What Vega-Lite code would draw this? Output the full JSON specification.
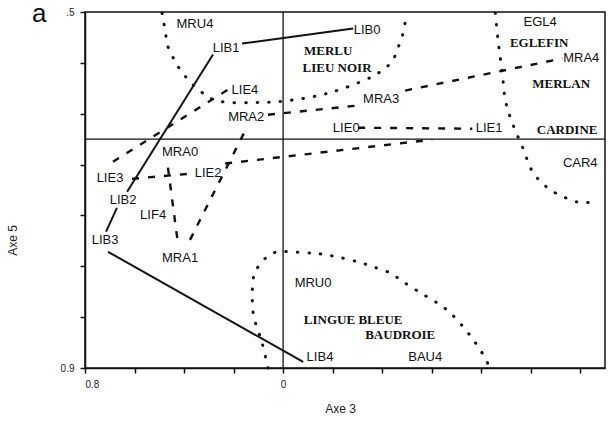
{
  "$schema": "https://vega.github.io/schema/vega-lite/v6.json",
  "autosize": {"type": "none"},
  "padding": {"left": 85, "top": 12, "right": 4, "bottom": 57},
  "width": 520,
  "height": 356,
  "background": "white",
  "config": {
    "view": {"stroke": "#111", "strokeWidth": 1.5},
    "axis": {"grid": false, "domainColor": "#111", "domainWidth": 1.5, "ticks": true, "tickColor": "#111", "tickWidth": 1.5, "tickSize": 5, "labelFont": "Liberation Sans", "labelFontSize": 10, "labelColor": "#222", "titleFont": "Liberation Sans", "titleFontSize": 12, "titleFontWeight": "normal", "titleColor": "#222"}
  },
  "datasets": {
    "solid": [
      {"s": "S1", "i": 0, "x": -0.166, "y": 0.376}, {"s": "S1", "i": 1, "x": 0.283, "y": 0.435},
      {"s": "S2", "i": 0, "x": -0.283, "y": 0.333}, {"s": "S2", "i": 1, "x": -0.630, "y": -0.207},
      {"s": "S3", "i": 0, "x": -0.671, "y": -0.270}, {"s": "S3", "i": 1, "x": -0.715, "y": -0.364},
      {"s": "S4", "i": 0, "x": -0.707, "y": -0.443}, {"s": "S4", "i": 1, "x": 0.081, "y": -0.876}
    ],
    "dashed": [
      {"s": "M01", "i": 0, "x": -0.465, "y": -0.112}, {"s": "M01", "i": 1, "x": -0.424, "y": -0.415},
      {"s": "M12", "i": 0, "x": -0.376, "y": -0.396}, {"s": "M12", "i": 1, "x": -0.145, "y": 0.049},
      {"s": "M23", "i": 0, "x": -0.061, "y": 0.096}, {"s": "M23", "i": 1, "x": 0.299, "y": 0.132},
      {"s": "M34", "i": 0, "x": 0.493, "y": 0.191}, {"s": "M34", "i": 1, "x": 1.127, "y": 0.317},
      {"s": "L01", "i": 0, "x": 0.303, "y": 0.045}, {"s": "L01", "i": 1, "x": 0.764, "y": 0.041},
      {"s": "L12", "i": 0, "x": -0.234, "y": -0.096}, {"s": "L12", "i": 1, "x": 0.602, "y": -0.002},
      {"s": "L23", "i": 0, "x": -0.610, "y": -0.156}, {"s": "L23", "i": 1, "x": -0.376, "y": -0.136},
      {"s": "L34", "i": 0, "x": -0.687, "y": -0.089}, {"s": "L34", "i": 1, "x": -0.222, "y": 0.195}
    ],
    "dotted": [
      {"s": "C1", "i": 0, "x": -0.489, "y": 0.496}, {"s": "C1", "i": 1, "x": -0.477, "y": 0.431},
      {"s": "C1", "i": 2, "x": -0.465, "y": 0.364}, {"s": "C1", "i": 3, "x": -0.440, "y": 0.313},
      {"s": "C1", "i": 4, "x": -0.416, "y": 0.274}, {"s": "C1", "i": 5, "x": -0.376, "y": 0.226},
      {"s": "C1", "i": 6, "x": -0.327, "y": 0.183}, {"s": "C1", "i": 7, "x": -0.283, "y": 0.156},
      {"s": "C1", "i": 8, "x": -0.214, "y": 0.144}, {"s": "C1", "i": 9, "x": -0.105, "y": 0.144},
      {"s": "C1", "i": 10, "x": -0.012, "y": 0.148}, {"s": "C1", "i": 11, "x": 0.121, "y": 0.167},
      {"s": "C1", "i": 12, "x": 0.230, "y": 0.195}, {"s": "C1", "i": 13, "x": 0.352, "y": 0.242},
      {"s": "C1", "i": 14, "x": 0.404, "y": 0.274}, {"s": "C1", "i": 15, "x": 0.440, "y": 0.305},
      {"s": "C1", "i": 16, "x": 0.461, "y": 0.352}, {"s": "C1", "i": 17, "x": 0.481, "y": 0.404},
      {"s": "C1", "i": 18, "x": 0.493, "y": 0.459}, {"s": "C1", "i": 19, "x": 0.501, "y": 0.496},
      {"s": "C2", "i": 0, "x": 0.857, "y": 0.496}, {"s": "C2", "i": 1, "x": 0.869, "y": 0.380},
      {"s": "C2", "i": 2, "x": 0.885, "y": 0.262}, {"s": "C2", "i": 3, "x": 0.897, "y": 0.156},
      {"s": "C2", "i": 4, "x": 0.925, "y": 0.065}, {"s": "C2", "i": 5, "x": 0.966, "y": -0.030},
      {"s": "C2", "i": 6, "x": 1.010, "y": -0.132}, {"s": "C2", "i": 7, "x": 1.079, "y": -0.199},
      {"s": "C2", "i": 8, "x": 1.160, "y": -0.238}, {"s": "C2", "i": 9, "x": 1.212, "y": -0.250},
      {"s": "C2", "i": 10, "x": 1.273, "y": -0.242},
      {"s": "C3", "i": 0, "x": -0.061, "y": -0.900}, {"s": "C3", "i": 1, "x": -0.085, "y": -0.801},
      {"s": "C3", "i": 2, "x": -0.121, "y": -0.683}, {"s": "C3", "i": 3, "x": -0.121, "y": -0.553},
      {"s": "C3", "i": 4, "x": -0.101, "y": -0.502}, {"s": "C3", "i": 5, "x": -0.065, "y": -0.463},
      {"s": "C3", "i": 6, "x": -0.024, "y": -0.443}, {"s": "C3", "i": 7, "x": 0.028, "y": -0.443},
      {"s": "C3", "i": 8, "x": 0.097, "y": -0.447}, {"s": "C3", "i": 9, "x": 0.149, "y": -0.451},
      {"s": "C3", "i": 10, "x": 0.218, "y": -0.463}, {"s": "C3", "i": 11, "x": 0.299, "y": -0.482},
      {"s": "C3", "i": 12, "x": 0.364, "y": -0.502}, {"s": "C3", "i": 13, "x": 0.432, "y": -0.526},
      {"s": "C3", "i": 14, "x": 0.485, "y": -0.561}, {"s": "C3", "i": 15, "x": 0.554, "y": -0.604},
      {"s": "C3", "i": 16, "x": 0.622, "y": -0.644}, {"s": "C3", "i": 17, "x": 0.675, "y": -0.683},
      {"s": "C3", "i": 18, "x": 0.727, "y": -0.738}, {"s": "C3", "i": 19, "x": 0.768, "y": -0.789},
      {"s": "C3", "i": 20, "x": 0.804, "y": -0.841}, {"s": "C3", "i": 21, "x": 0.836, "y": -0.900}
    ],
    "labels": [
      {"t": "MRU4", "x": -0.356, "y": 0.451}, {"t": "LIB1", "x": -0.230, "y": 0.360},
      {"t": "LIB0", "x": 0.339, "y": 0.431}, {"t": "LIE4", "x": -0.154, "y": 0.195},
      {"t": "MRA2", "x": -0.149, "y": 0.089}, {"t": "MRA3", "x": 0.396, "y": 0.156},
      {"t": "MRA4", "x": 1.204, "y": 0.321}, {"t": "EGL4", "x": 1.038, "y": 0.459},
      {"t": "LIE0", "x": 0.255, "y": 0.045}, {"t": "LIE1", "x": 0.832, "y": 0.045},
      {"t": "MRA0", "x": -0.416, "y": -0.049}, {"t": "LIE3", "x": -0.699, "y": -0.152},
      {"t": "LIE2", "x": -0.303, "y": -0.132}, {"t": "LIB2", "x": -0.646, "y": -0.238},
      {"t": "LIF4", "x": -0.525, "y": -0.297}, {"t": "LIB3", "x": -0.719, "y": -0.396},
      {"t": "MRA1", "x": -0.416, "y": -0.467}, {"t": "MRU0", "x": 0.121, "y": -0.565},
      {"t": "LIB4", "x": 0.149, "y": -0.857}, {"t": "BAU4", "x": 0.574, "y": -0.857},
      {"t": "CAR4", "x": 1.200, "y": -0.093}
    ],
    "groups": [
      {"t": "MERLU", "x": 0.182, "y": 0.348}, {"t": "LIEU NOIR", "x": 0.218, "y": 0.281},
      {"t": "EGLEFIN", "x": 1.034, "y": 0.380}, {"t": "MERLAN", "x": 1.123, "y": 0.215},
      {"t": "CARDINE", "x": 1.147, "y": 0.037}, {"t": "LINGUE BLEUE", "x": 0.283, "y": -0.711},
      {"t": "BAUDROIE", "x": 0.473, "y": -0.770}
    ],
    "panel": [
      {"t": "a", "x": -1.014, "y": 0.459}
    ]
  },
  "layer": [
    {
      "data": {"values": [{"v": 0}]},
      "mark": {"type": "rule", "color": "#111", "strokeWidth": 1.3},
      "encoding": {
        "x": {"field": "v", "type": "quantitative",
          "scale": {"domain": [-0.8, 1.3], "nice": false, "zero": false},
          "axis": {"title": "Axe 3", "values": [-0.8, -0.7, -0.6, -0.5, -0.4, -0.3, -0.2, -0.1, 0, 0.1, 0.2, 0.3, 0.4, 0.5, 0.6, 0.7, 0.8, 0.9, 1.0, 1.1, 1.2, 1.3],
            "labelExpr": "datum.value <= -0.79 ? '0.8' : (abs(datum.value) < 0.01 ? '0' : (datum.value >= 1.29 ? '1.3' : ''))",
            "labelFlush": true, "labelPadding": 6, "titleX": 255, "titleY": 40, "titleBaseline": "middle", "titleAlign": "center"}}
      }
    },
    {
      "data": {"values": [{"v": 0}]},
      "mark": {"type": "rule", "color": "#111", "strokeWidth": 1.3},
      "encoding": {
        "y": {"field": "v", "type": "quantitative",
          "scale": {"domain": [-0.9, 0.5], "nice": false, "zero": false},
          "axis": {"title": "Axe 5", "values": [-0.9, -0.8, -0.7, -0.6, -0.5, -0.4, -0.3, -0.2, -0.1, 0, 0.1, 0.2, 0.3, 0.4, 0.5],
            "labelExpr": "datum.value <= -0.89 ? '0.9' : (abs(datum.value) < 0.01 ? '0' : (datum.value >= 0.49 ? '.5' : ''))",
            "labelPadding": 6, "titleAngle": 270, "titleX": -73, "titleY": 228, "titleAlign": "center", "titleBaseline": "middle"}}
      }
    },
    {
      "data": {"name": "dotted"},
      "mark": {"type": "line", "color": "#111", "strokeWidth": 3, "strokeDash": [0.5, 11], "strokeCap": "round", "interpolate": "cardinal"},
      "encoding": {
        "x": {"field": "x", "type": "quantitative"},
        "y": {"field": "y", "type": "quantitative"},
        "detail": {"field": "s"},
        "order": {"field": "i"}
      }
    },
    {
      "data": {"name": "dashed"},
      "mark": {"type": "line", "color": "#111", "strokeWidth": 2.4, "strokeDash": [7, 9]},
      "encoding": {
        "x": {"field": "x", "type": "quantitative"},
        "y": {"field": "y", "type": "quantitative"},
        "detail": {"field": "s"},
        "order": {"field": "i"}
      }
    },
    {
      "data": {"name": "solid"},
      "mark": {"type": "line", "color": "#111", "strokeWidth": 2},
      "encoding": {
        "x": {"field": "x", "type": "quantitative"},
        "y": {"field": "y", "type": "quantitative"},
        "detail": {"field": "s"},
        "order": {"field": "i"}
      }
    },
    {
      "data": {"name": "labels"},
      "mark": {"type": "text", "font": "Liberation Sans", "fontSize": 13, "color": "#111", "align": "center", "baseline": "middle"},
      "encoding": {
        "x": {"field": "x", "type": "quantitative"},
        "y": {"field": "y", "type": "quantitative"},
        "text": {"field": "t"}
      }
    },
    {
      "data": {"name": "groups"},
      "mark": {"type": "text", "font": "Liberation Serif", "fontSize": 13, "fontWeight": "bold", "color": "#111", "align": "center", "baseline": "middle"},
      "encoding": {
        "x": {"field": "x", "type": "quantitative"},
        "y": {"field": "y", "type": "quantitative"},
        "text": {"field": "t"}
      }
    },
    {
      "data": {"name": "panel"},
      "mark": {"type": "text", "font": "Liberation Sans", "fontSize": 26, "color": "#111", "align": "left", "baseline": "alphabetic"},
      "encoding": {
        "x": {"field": "x", "type": "quantitative"},
        "y": {"field": "y", "type": "quantitative"},
        "text": {"field": "t"}
      }
    }
  ]
}
